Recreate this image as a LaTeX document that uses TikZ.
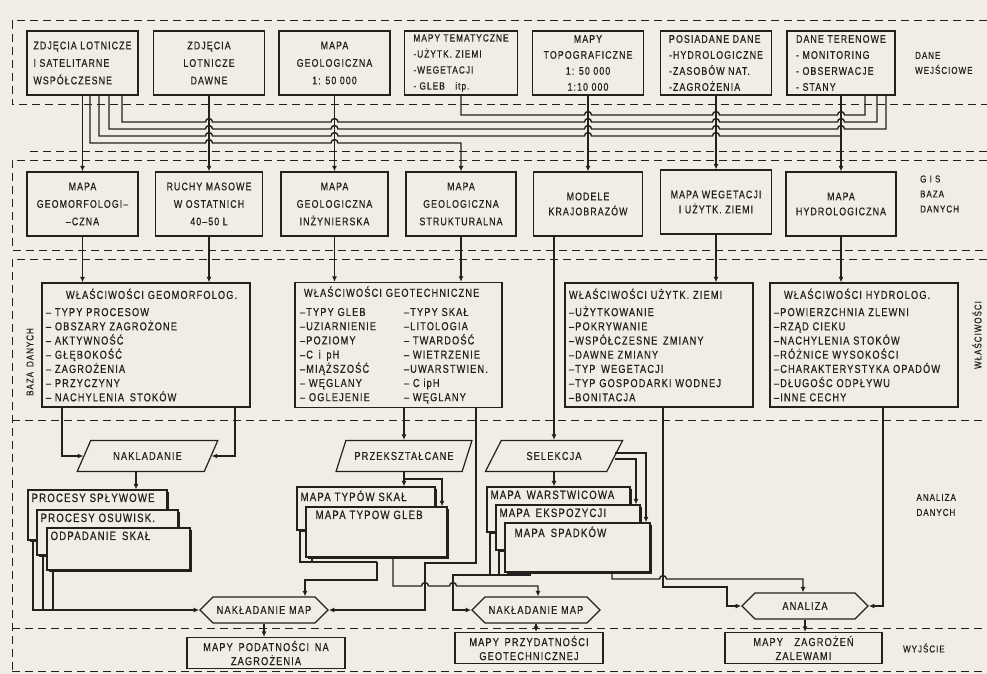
\documentclass[tikz,border=0pt]{standalone}
\usepackage{fontspec}
\setmainfont{Liberation Sans}[FakeStretch=0.8, LetterSpace=10, FakeBold=0.6]
\usepackage{tikz}
\usetikzlibrary{arrows.meta, shapes.geometric, shapes.symbols, shadows, calc, positioning}

\definecolor{ink}{RGB}{36,32,30}
\definecolor{paper}{RGB}{241,237,229}

\newcommand{\fontTop}{\fontsize{11}{17.5}\selectfont}
\newcommand{\fontFour}{\fontsize{11}{16}\selectfont}
\newcommand{\fontFourNarrow}{\fontsize{10.4}{16}\selectfont}
\newcommand{\fontTwo}{\fontsize{11}{15}\selectfont}
\newcommand{\fontProp}{\fontsize{11.5}{14.2}\selectfont}
\newcommand{\fontStack}{\fontsize{12}{13}\selectfont}
\newcommand{\fontOp}{\fontsize{11.5}{13}\selectfont}
\newcommand{\fontOut}{\fontsize{11.5}{14}\selectfont}
\newcommand{\fontLbl}{\fontsize{10}{15}\selectfont}

\begin{document}
\begin{tikzpicture}[
    x=1pt, y=-1pt,
    databox/.style={rectangle, draw=ink, fill=paper, text=ink, line width=1.2pt, minimum width=111pt, minimum height=64pt, inner sep=2pt, align=center, font=\fontTop},
    fourline/.style={font=\fontFour},
    twoline/.style={font=\fontTwo},
    propbox/.style={rectangle, draw=ink, fill=paper, text=ink, line width=1.2pt, minimum height=124pt, inner sep=4pt, align=left, font=\fontProp},
    stackbox/.style={rectangle, draw=ink, fill=paper, line width=1.2pt, drop shadow={opacity=1, fill=ink, shadow xshift=1.8pt, shadow yshift=-1.8pt}, label={[anchor=north west, inner sep=4pt, text=ink, font=\fontStack]north west:#1}},
    opbox/.style={trapezium, trapezium left angle=60, trapezium right angle=120, trapezium stretches=true, draw=ink, fill=paper, text=ink, line width=1.2pt, minimum height=31pt, inner xsep=1pt, font=\fontOp},
    mergebox/.style={signal, signal to=west and east, draw=ink, fill=paper, text=ink, line width=1.2pt, minimum height=26pt, minimum width=128pt, inner xsep=1pt, font=\fontOp},
    outbox/.style={rectangle, draw=ink, fill=paper, text=ink, line width=1.2pt, minimum height=31pt, inner sep=2pt, align=center, font=\fontOut},
    lbl/.style={align=left, text=ink, font=\fontLbl},
    wire/.style={draw=ink, line width=1.4pt},
    arrow/.style={wire, -{Latex[length=5.5pt, width=5pt]}},
    zone/.style={draw=ink, line width=1pt, dash pattern=on 8pt off 5pt}
]
\fill[paper] (0,0) rectangle (987,674);
\useasboundingbox (0,0) rectangle (987,674);

% zones
\draw[zone] (987,21) -| (12,105) -- (987,105);
\draw[zone] (30,151) -- (987,151);
\draw[zone] (987,160) -| (12,250) -- (987,250);
\draw[zone] (987,259) -| (12,674);
\draw[zone] (12,420) -- (987,420);
\draw[zone] (12,628) -- (987,628);
\draw[zone] (12,671) -- (987,671);

% Top: input data
\node[databox, align=left] (t1) at (82.5,63) {ZDJĘCIA LOTNICZE\\I SATELITARNE\\WSPÓŁCZESNE};
\node[databox] (t2) at (209,63) {ZDJĘCIA\\LOTNICZE\\DAWNE};
\node[databox] (t3) at (334.5,63) {MAPA\\GEOLOGICZNA\\1: 50 000};
\node[databox, font=\fontFourNarrow, align=left, minimum width=113pt] (t4) at (461,63) {MAPY TEMATYCZNE\\-UŻYTK. ZIEMI\\-WEGETACJI\\- GLEB\quad itp.};
\node[databox, fourline] (t5) at (588,63) {MAPY\\TOPOGRAFICZNE\\1: 50 000\\1:10 000};
\node[databox, fourline, align=left] (t6) at (716,63) {POSIADANE DANE\\-HYDROLOGICZNE\\-ZASOBÓW NAT.\\-ZAGROŻENIA};
\node[databox, fourline, align=left, minimum width=108pt] (t7) at (841,63) {DANE TERENOWE\\- MONITORING\\- OBSERWACJE\\- STANY};
\node[lbl, right=16pt of t7] (in_lbl) {DANE\\WEJŚCIOWE};

% Middle: GIS data base
\node[databox] (m1) at (82.5,204) {MAPA\\GEOMORFOLOGI–\\–CZNA};
\node[databox, minimum width=107pt] (m2) at (209,204) {RUCHY MASOWE\\W OSTATNICH\\40–50 L};
\node[databox, minimum width=107pt] (m3) at (334.5,204) {MAPA\\GEOLOGICZNA\\INŻYNIERSKA};
\node[databox, minimum width=110pt] (m4) at (461,204) {MAPA\\GEOLOGICZNA\\STRUKTURALNA};
\node[databox, twoline, minimum width=109pt] (m5) at (588,204) {MODELE\\KRAJOBRAZÓW};
\node[databox, twoline] (m6) at (716,202) {MAPA WEGETACJI\\I UŻYTK. ZIEMI};
\node[databox, twoline, minimum width=110pt] (m7) at (841,204) {MAPA\\HYDROLOGICZNA};
\node[lbl, right=20pt of m7, yshift=10pt] (gis_lbl) {G I S\\BAZA\\DANYCH};

% Bus between input data and base
\draw[arrow] (t1) -- (m1);
\draw[arrow] (t2) -- (m2);
\draw[arrow] (t3) -- (m3);
\draw[arrow] (t5) -- (m5);
\draw[arrow] (t6) -- (m6);
\draw[arrow] (t7) -- (m7);
\draw[wire] (461,0 |- t4.south) -- (461,115)
  \foreach \h in {588,716,841} {-- (\h-3.5,115) .. controls +(0,-4.5) and +(0,-4.5) .. (\h+3.5,115)}
  -- (865,115) -- (865,0 |- t7.south);
\draw[wire] (122,0 |- t1.south) -- (122,122)
  \foreach \h in {209,334.5,588,716,841} {-- (\h-3.5,122) .. controls +(0,-4.5) and +(0,-4.5) .. (\h+3.5,122)}
  -- (877,122) -- (877,0 |- t7.south);
\draw[wire] (109,0 |- t1.south) -- (109,129)
  \foreach \h in {209,334.5,588,716,841} {-- (\h-3.5,129) .. controls +(0,-4.5) and +(0,-4.5) .. (\h+3.5,129)}
  -- (886,129) -- (886,0 |- t7.south);
\draw[wire] (99,0 |- t1.south) -- (99,136)
  \foreach \h in {209,334.5,588,716} {-- (\h-3.5,136) .. controls +(0,-4.5) and +(0,-4.5) .. (\h+3.5,136)}
  -- (841,136);
\draw[arrow] (90,0 |- t1.south) -- (90,143)
  \foreach \h in {209,334.5} {-- (\h-3.5,143) .. controls +(0,-4.5) and +(0,-4.5) .. (\h+3.5,143)}
  -- (461,143) -- (m4.north);

% Properties
\node[propbox, text width=200pt] (p1) at (146,345) {\hspace*{20pt}WŁAŚCIWOŚCI GEOMORFOLOG.\\[3pt]– TYPY PROCESOW\\– OBSZARY ZAGROŻONE\\– AKTYWNOŚĆ\\– GŁĘBOKOŚĆ\\– ZAGROŻENIA\\– PRZYCZYNY\\– NACHYLENIA\enspace STOKÓW};
\node[propbox, text width=197pt, minimum width=207pt] (p2) at (398.5,345) {\hspace*{4pt}WŁAŚCIWOŚCI GEOTECHNICZNE\\[5pt]\makebox[104pt][l]{–TYPY GLEB}–TYPY SKAŁ\\\makebox[104pt][l]{–UZIARNIENIE}–LITOLOGIA\\\makebox[104pt][l]{–POZIOMY}– TWARDOŚĆ\\\makebox[104pt][l]{–C\enspace i\enspace pH}– WIETRZENIE\\\makebox[104pt][l]{–MIĄŻSZOŚĆ}–UWARSTWIEN.\\\makebox[104pt][l]{– WĘGLANY}– C ipH\\\makebox[104pt][l]{– OGLEJENIE}– WĘGLANY};
\node[propbox, text width=180pt] (p3) at (659,345) {WŁAŚCIWOŚCI UŻYTK. ZIEMI\\[3pt]–UŻYTKOWANIE\\–POKRYWANIE\\–WSPÓŁCZESNE\enspace ZMIANY\\–DAWNE ZMIANY\\–TYP\enspace WEGETACJI\\–TYP GOSPODARKI WODNEJ\\–BONITACJA};
\node[propbox, text width=180pt] (p4) at (864,345) {\hspace*{10pt}WŁAŚCIWOŚCI HYDROLOG.\\[3pt]–POWIERZCHNIA ZLEWNI\\–RZĄD CIEKU\\–NACHYLENIA STOKÓW\\–RÓŻNICE WYSOKOŚCI\\–CHARAKTERYSTYKA OPADÓW\\–DŁUGOŚC ODPŁYWU\\–INNE CECHY};
\node[lbl, rotate=90] (base_lbl) at (30,362) {BAZA\enspace DANYCH};
\node[lbl, rotate=90] (prop_lbl) at (977,335) {WŁAŚCIWOŚCI};

\draw[arrow] (m1.south) -- (m1.south |- p1.north);
\draw[arrow] (m2.south) -- (m2.south |- p1.north);
\draw[arrow] (m3.south) -- (m3.south |- p2.north);
\draw[arrow] (m4.south) -- (m4.south |- p2.north);
\draw[arrow] (m6.south) -- (m6.south |- p3.north);
\draw[arrow] (m7.south) -- (m7.south |- p4.north);

% Operations
\node[opbox, minimum width=141pt] (nak) at (147.5,456) {NAKLADANIE};
\node[opbox, minimum width=136pt] (pr) at (404,456) {PRZEKSZTAŁCANE};
\node[opbox, minimum width=138pt] (sel) at (554,456) {SELEKCJA};

\draw[arrow] (62,0 |- p1.south) |- (nak.west);
\draw[arrow] (235,0 |- p1.south) |- (nak.east);
\draw[arrow] (pr.north |- p2.south) -- (pr.north);
\draw[arrow] (sel.north |- m5.south) -- (sel.north);

% Map stacks
\node[stackbox={PROCESY SPŁYWOWE}, minimum width=139pt, minimum height=50pt] (s1) at (97.5,515) {};
\node[stackbox={PROCESY OSUWISK.}, minimum width=141pt, minimum height=45pt] (s2) at (107.5,532.5) {};
\node[stackbox={ODPADANIE\enspace SKAŁ}, minimum width=143pt, minimum height=42pt] (s3) at (118.5,549) {};

\node[stackbox={MAPA TYPÓW SKAŁ}, minimum width=138pt, minimum height=43pt] (g1) at (366,508.5) {};
\node[stackbox={\enspace MAPA TYPOW GLEB}, minimum width=141pt, minimum height=50pt] (g2) at (376.5,532) {};

\node[stackbox={MAPA\enspace WARSTWICOWA}, minimum width=143pt, minimum height=45pt] (w1) at (558.5,509.5) {};
\node[stackbox={MAPA\enspace EKSPOZYCJI}, minimum width=144pt, minimum height=45pt] (w2) at (568,527.5) {};
\node[stackbox={\enspace MAPA\enspace SPADKÓW}, minimum width=145pt, minimum height=49pt] (w3) at (577.5,547.5) {};

\draw[arrow] (136,0 |- nak.south) -- (136,0 |- s1.north);
\draw[arrow] (pr.south) -- (pr.south |- g1.north);
\draw[arrow] ($(pr.south)+(0,7)$) -| (442,0 |- g2.north);
\draw[arrow] (sel.south) -- (sel.south |- w1.north);
\draw[arrow] ([yshift=3pt]sel.east) -| (646,0 |- w3.north);
\draw[arrow] ([yshift=-3pt]sel.east) -| (636,0 |- w2.north);

% Overlay and analysis
\node[mergebox] (lhex) at (264,610) {NAKŁADANIE MAP};
\node[mergebox] (rhex) at (536,610) {NAKŁADANIE MAP};
\node[mergebox, minimum width=126pt] (ahex) at (805,606) {ANALIZA};
\node[lbl, anchor=west] (anal_lbl) at (913,505) {ANALIZA\\DANYCH};

\coordinate (gjoin) at (377,562);
\coordinate (pjoin) at (425,563);
\coordinate (wjoin) at (453,575);
\coordinate (ajoin) at (727,587);

\draw[arrow] (33,0 |- s1.south) |- (lhex.west);
\draw[wire] (43,0 |- s2.south) -- (43,0 |- lhex.west);
\draw[wire] (53,0 |- s3.south) -- (53,0 |- lhex.west);

\draw[wire] (300,0 |- g1.south) |- (gjoin);
\draw[wire] (312,0 |- g2.south) -- (312,0 |- gjoin);
\draw[arrow] (gjoin) |- (305,580) -- (305,0 |- lhex.north);
\draw[arrow] (476,0 |- p2.south) |- (pjoin) |- (lhex.east);
\draw[arrow] (393,0 |- g2.south) -- (393,586)
  \foreach \h in {425,453} {-- (\h-3.5,586) .. controls +(0,-4.5) and +(0,-4.5) .. (\h+3.5,586)}
  -- (538,586) -- (538,0 |- rhex.north);

\draw[wire] (490,0 |- w1.south) -- (490,0 |- wjoin);
\draw[wire] (499,0 |- w2.south) -- (499,0 |- wjoin);
\draw[arrow] (530,0 |- w3.south) |- (wjoin) |- (rhex.west);
\draw[arrow] (612,0 |- w3.south) -- (612,579)
  \foreach \h in {663} {-- (\h-3.5,579) .. controls +(0,-4.5) and +(0,-4.5) .. (\h+3.5,579)}
  -- (803,579) -- (803,0 |- ahex.north);
\draw[arrow] (663,0 |- p3.south) |- (ajoin) |- (ahex.west);
\draw[arrow] (883,0 |- p4.south) |- (ahex.east);

% Output
\node[outbox, minimum width=158pt] (o1) at (266,653) {MAPY\enspace PODATNOŚCI\enspace NA\\ZAGROŻENIA};
\node[outbox, minimum width=148pt] (o2) at (529,648) {MAPY\enspace PRZYDATNOŚCI\\GEOTECHNICZNEJ};
\node[outbox, minimum width=157pt] (o3) at (803.5,648) {MAPY\enspace\enspace ZAGROŻEŃ\\ZALEWAMI};
\node[lbl, right=17pt of o3] (out_lbl) {WYJŚCIE};

\draw[arrow] (lhex.south) -- (lhex.south |- o1.north);
\draw[arrow] (rhex.south) -- (rhex.south |- o2.north);
\draw[arrow] (ahex.south) -- (ahex.south |- o3.north);

\end{tikzpicture}
\end{document}
